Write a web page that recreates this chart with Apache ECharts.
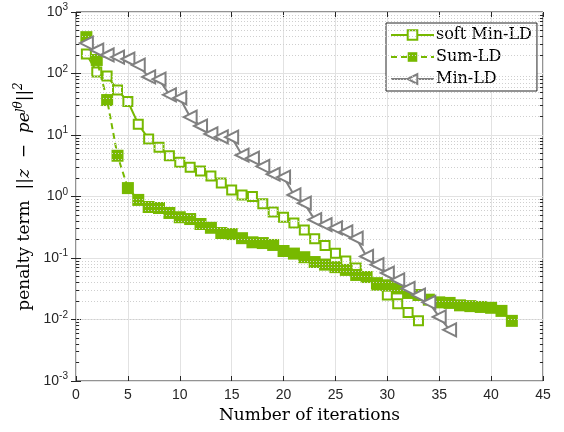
<!DOCTYPE html>
<html>
<head>
<meta charset="utf-8">
<script src="https://cdn.jsdelivr.net/npm/echarts@6/dist/echarts.min.js"></script>
<style>
  html, body { margin: 0; padding: 0; background: #fff; }
  #chart { width: 564px; height: 432px; }
</style>
</head>
<body>
<div id="chart"></div>
<script>
// values, iteration 1..n
const softMinLD = [207, 106, 91, 54, 35, 15, 8.6, 6.3, 4.6, 3.6, 3.0, 2.6, 2.15, 1.65, 1.28, 1.06, 1.0,
  0.76, 0.56, 0.46, 0.37, 0.285, 0.205, 0.16, 0.12, 0.089, 0.069, 0.049, 0.036, 0.025, 0.018, 0.013, 0.0095]
const sumLD = [390, 166, 37, 4.6, 1.37, 0.88, 0.675, 0.65, 0.54, 0.46, 0.43, 0.357, 0.31, 0.255, 0.245, 0.21,
  0.18, 0.175, 0.163, 0.13, 0.118, 0.103, 0.086, 0.078, 0.071, 0.064, 0.053, 0.049, 0.039, 0.036, 0.032,
  0.027, 0.025, 0.021, 0.019, 0.0186, 0.017, 0.0165, 0.016, 0.0155, 0.0138, 0.0095]
const minLD = [313, 241, 200, 185, 172, 137, 88, 81, 45, 40, 19.6, 14, 10.4, 9.3, 9.2, 4.7, 4.2, 3.1, 2.3,
  2.07, 1.06, 0.78, 0.42, 0.35, 0.31, 0.265, 0.21, 0.106, 0.078, 0.057, 0.044, 0.032, 0.025, 0.019, 0.011, 0.0068]

const green = '#77b900'
const grey = '#808080'

const toPairs = (arr) => arr.map((v, i) => [i + 1, v])

// minor log grid (2..9 in each decade)
const minorVals = []
for (let d = -3; d < 3; d++) {
  for (let m = 2; m <= 9; m++) minorVals.push(m * Math.pow(10, d))
}
const minorGrid = minorVals.map(v => ({ yAxis: v }))
const minorTicks = []
minorVals.forEach(v => {
  minorTicks.push([{ coord: [0, v] }, { coord: [0.3, v] }])
  minorTicks.push([{ coord: [44.7, v] }, { coord: [45, v] }])
})

const serif = 'DejaVu Serif'
const sans = 'Liberation Sans'
const axisColor = '#262626'

const chart = echarts.init(document.getElementById('chart'))
chart.setOption({
  animation: false,
  backgroundColor: '#fff',
  grid: {
    left: 76, right: 21, top: 12, bottom: 51,
    containLabel: false, outerBoundsMode: 'none',
    show: true, borderColor: axisColor, borderWidth: 1
  },
  legend: {
    orient: 'vertical',
    left: 386, top: 23,
    padding: [4, 5, 4, 4],
    itemGap: 6,
    itemWidth: 43,
    itemHeight: 12,
    backgroundColor: '#fff',
    borderColor: axisColor,
    borderWidth: 1,
    borderRadius: 0,
    data: ['soft Min-LD', 'Sum-LD', 'Min-LD'],
    textStyle: { fontFamily: serif, fontSize: 16, color: '#000', padding: [0, 0, 0, -3] }
  },
  xAxis: [{
    type: 'value', min: 0, max: 45, interval: 5,
    name: 'Number of iterations', nameLocation: 'middle', nameGap: 25,
    nameTextStyle: { fontFamily: serif, fontSize: 17, color: '#000' },
    axisLine: { show: false },
    axisTick: { show: true, inside: true, length: 5, lineStyle: { color: axisColor } },
    axisLabel: { fontFamily: sans, fontSize: 14, color: axisColor, margin: 7 },
    splitLine: { show: true, lineStyle: { color: '#e2e2e2', width: 1 } }
  }, {
    type: 'value', min: 0, max: 45, interval: 5, position: 'top',
    axisLine: { show: false },
    axisTick: { show: true, inside: true, length: 5, lineStyle: { color: axisColor } },
    axisLabel: { show: false },
    splitLine: { show: false }
  }],
  yAxis: [{
    type: 'log', logBase: 10, min: 0.001, max: 1000,
    name: '{t|penalty term  ||}{i|z}{t|  −  }{i|pe}{s|ȷθ}{t|||}{s|2}',
    nameLocation: 'middle', nameGap: 31,
    nameTextStyle: {
      color: '#000',
      rich: {
        t: { fontFamily: serif, fontSize: 17, color: '#000' },
        i: { fontFamily: serif, fontSize: 17, fontStyle: 'italic', color: '#000' },
        s: { fontFamily: serif, fontSize: 12, fontStyle: 'italic', color: '#000', padding: [0, 0, 10, 0] }
      }
    },
    axisLine: { show: false },
    axisTick: { show: true, inside: true, length: 5, lineStyle: { color: axisColor } },
    axisLabel: {
      margin: 8,
      formatter: (v) => '{b|10}{e|' + Math.round(Math.log10(v)) + '}',
      rich: {
        b: { fontFamily: sans, fontSize: 14, color: axisColor },
        e: { fontFamily: sans, fontSize: 10, color: axisColor, padding: [0, 0, 9, 0] }
      }
    },
    splitLine: { show: true, lineStyle: { color: '#e2e2e2', width: 1 } }
  }, {
    type: 'log', logBase: 10, min: 0.001, max: 1000, position: 'right',
    axisLine: { show: false },
    axisTick: { show: true, inside: true, length: 5, lineStyle: { color: axisColor } },
    axisLabel: { show: false },
    splitLine: { show: false }
  }],
  series: [
    {
      name: '_grid', type: 'line', data: [], z: 0, silent: true,
      markLine: {
        silent: true, symbol: 'none', label: { show: false },
        lineStyle: { color: '#cfcfcf', type: [1, 2], width: 1 },
        data: minorGrid
      }
    },
    {
      name: '_ticks', type: 'line', data: [], z: 1, silent: true,
      markLine: {
        silent: true, symbol: 'none', label: { show: false },
        lineStyle: { color: axisColor, type: 'solid', width: 1 },
        data: minorTicks
      }
    },
    {
      name: 'soft Min-LD', type: 'line', z: 3,
      data: toPairs(softMinLD),
      symbol: 'emptyRect', symbolSize: 9,
      lineStyle: { color: green, width: 2 },
      itemStyle: { color: green, borderWidth: 2 }
    },
    {
      name: 'Sum-LD', type: 'line', z: 4,
      data: toPairs(sumLD),
      symbol: 'rect', symbolSize: 12,
      lineStyle: { color: green, width: 2, type: [6, 4] },
      itemStyle: { color: green, borderColor: green, borderWidth: 0, opacity: 1 }
    },
    {
      name: 'Min-LD', type: 'line', z: 5,
      data: toPairs(minLD),
      symbol: 'emptyTriangle', symbolSize: 13, symbolRotate: 90,
      lineStyle: { color: grey, width: 2 },
      itemStyle: { color: grey, borderWidth: 2 }
    }
  ]
})
</script>
</body>
</html>
